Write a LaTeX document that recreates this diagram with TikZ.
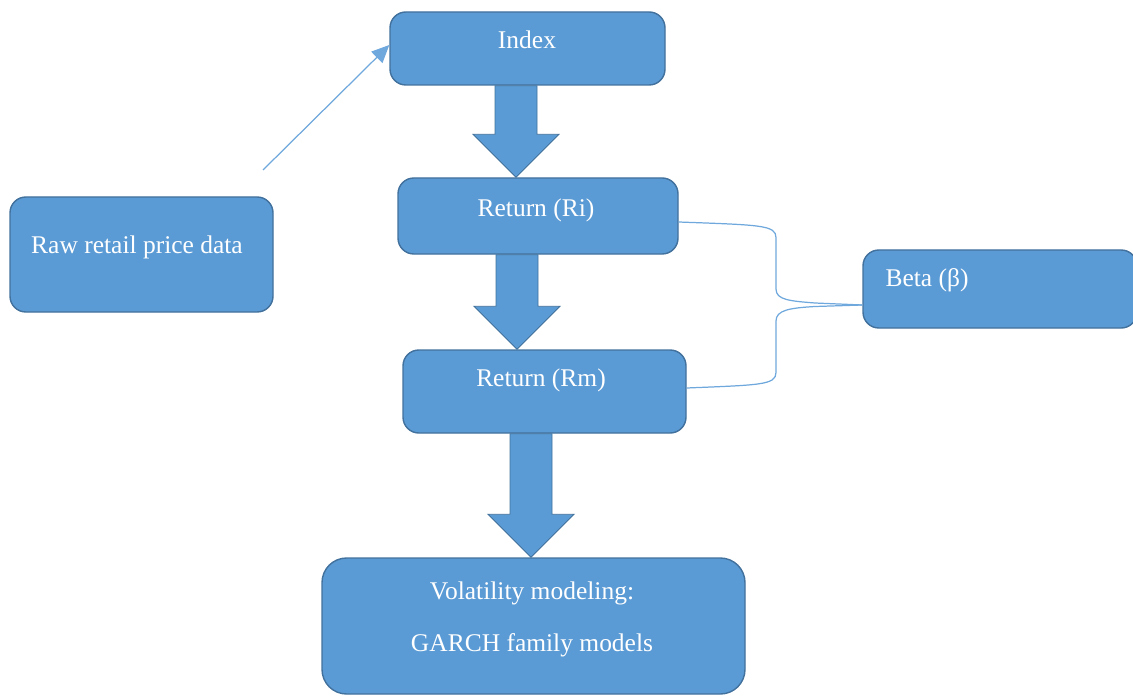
\documentclass[tikz,border=0pt]{standalone}
\usepackage{fontspec}
\setmainfont{Liberation Serif}
\usetikzlibrary{arrows.meta,positioning,calc}
\definecolor{wblue}{HTML}{5B9BD5}
\definecolor{wedge}{HTML}{41719C}
\definecolor{wline}{HTML}{6FA8DC}

\begin{document}
\begin{tikzpicture}[
  box/.style={draw=wedge,fill=wblue,line width=0.8pt,rounded corners=9pt,inner sep=0pt},
  txt/.style={text=white,align=center,inner sep=1pt,font=\fontsize{14.5}{17}\selectfont},
  blk/.style={draw=wedge,fill=wblue,line width=0.5pt},
  ln/.style={draw=wline,line width=0.7pt}
]
\useasboundingbox (0,0) rectangle (22.66,-13.92);

\node[box,minimum width=5.5cm,minimum height=1.46cm] (idx) at (10.55,-0.97) {};
\node[box,minimum width=5.6cm,minimum height=1.52cm] (ri) at (10.76,-4.32) {};
\node[box,minimum width=5.66cm,minimum height=1.66cm] (rm) at (10.89,-7.83) {};
\node[box,minimum width=5.26cm,minimum height=2.3cm] (raw) at (2.83,-5.09) {};
\node[box,minimum width=5.48cm,minimum height=1.56cm] (beta) at (20.0,-5.78) {};
\node[box,minimum width=8.46cm,minimum height=2.72cm,rounded corners=14pt] (vol) at (10.67,-12.52) {};

\node[txt] (idx-t) at (10.54,-0.80) {Index};
\node[txt] (ri-t) at (10.72,-4.20) {Return (Ri)};
\node[txt] (rm-t) at (10.82,-7.60) {Return (Rm)};
\node[txt] (raw-t) at (2.74,-4.95) {Raw retail price data};
\node[txt] (beta-t) at (18.54,-5.60) {Beta (β)};
\node[txt] (vol-t) at (10.64,-12.39) {Volatility modeling:\\[13pt] GARCH family models};

\foreach \a/\b/\x in {idx/ri/10.32,ri/rm/10.34,rm/vol/10.62}{
  \path (\x,0 |- \a.south) coordinate (t) (\x,0 |- \b.north) coordinate (h);
  \draw[blk] ($(t)+(-0.42,0)$) -- ($(t)+(0.42,0)$) -- ($(h)+(0.42,0.86)$) -- ($(h)+(0.86,0.86)$)
    -- (h) -- ($(h)+(-0.86,0.86)$) -- ($(h)+(-0.42,0.86)$) -- cycle;}

\coordinate (src) at (5.26,-3.40);
\draw[ln,-{Triangle[length=10pt,width=9pt]}] (src) -- ([yshift=0.07cm]idx.west);

\coordinate (jn) at ([yshift=-0.32cm]beta.west);
\draw[ln] ([yshift=-0.12cm]ri.east) .. controls (15.2,-4.5) and (15.52,-4.5) .. (15.52,-4.75)
  -- (15.52,-5.78) .. controls (15.52,-6.0) and (15.8,-6.02) .. (16.3,-6.06) -- (jn);
\draw[ln] ([yshift=0.07cm]rm.east) .. controls (15.2,-7.7) and (15.52,-7.7) .. (15.52,-7.45)
  -- (15.52,-6.42) .. controls (15.52,-6.2) and (15.8,-6.16) .. (16.3,-6.13) -- (jn);
\end{tikzpicture}
\end{document}
